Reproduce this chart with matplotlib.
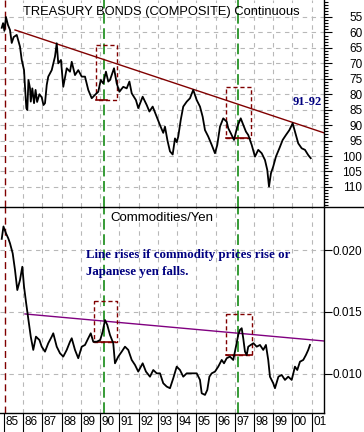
import matplotlib
matplotlib.use("Agg")
import matplotlib.pyplot as plt
import matplotlib.transforms as mtransforms
from matplotlib.lines import Line2D
import numpy as np

# ----- Treasury bonds (composite), inverted price scale -----
bond_years = [1984.88, 1984.95, 1985.02, 1985.10, 1985.20, 1985.31, 1985.40, 1985.50, 1985.66,
              1985.83, 1985.92, 1986.04, 1986.09, 1986.16, 1986.21, 1986.27, 1986.35, 1986.39,
              1986.47, 1986.56, 1986.64, 1986.72, 1986.84, 1986.96, 1987.05, 1987.13, 1987.22,
              1987.30, 1987.48, 1987.65, 1987.74,
              1987.82, 1987.96, 1988.08, 1988.26, 1988.43, 1988.52, 1988.69, 1988.86, 1989.04,
              1989.21, 1989.38, 1989.56, 1989.73, 1989.90, 1990.03, 1990.16, 1990.30, 1990.42,
              1990.51, 1990.72, 1990.86, 1991.00, 1991.20, 1991.38, 1991.52, 1991.64, 1991.86,
              1991.98, 1992.21, 1992.42, 1992.56, 1992.73, 1992.94, 1993.11, 1993.28, 1993.37,
              1993.50, 1993.63, 1993.77, 1993.89, 1993.98, 1994.06, 1994.19, 1994.32, 1994.50,
              1994.67, 1994.84, 1995.02, 1995.19, 1995.33, 1995.45, 1995.62, 1995.80, 1995.97,
              1996.09, 1996.23, 1996.40, 1996.58, 1996.66, 1996.79, 1996.96, 1997.13, 1997.31,
              1997.44, 1997.58, 1997.70, 1997.88, 1998.05, 1998.22, 1998.40, 1998.57, 1998.69,
              1998.78, 1998.88, 1999.00, 1999.14, 1999.32, 1999.49, 1999.66, 1999.84, 2000.01,
              2000.13, 2000.30, 2000.48, 2000.65, 2000.82, 2000.95]
bond_values = [58.5, 57.0, 59.5, 55.0, 57.5, 59.2, 63.4, 61.5, 60.8,
               64.6, 68.9, 72.2, 77.6, 84.5, 85.1, 75.4, 78.0, 82.4,
               78.1, 82.9, 78.6, 82.5, 80.0, 81.0, 83.5, 82.9, 77.0,
               74.3, 72.2, 67.8, 63.5,
               70.0, 68.9, 77.6, 71.6, 72.7, 69.5, 73.8, 72.2, 74.3,
               74.3, 78.6, 81.3, 80.2, 79.2, 75.4, 76.5, 72.7, 75.9,
               75.4, 71.6, 76.5, 79.2, 77.6, 78.1, 75.9, 79.7, 81.9,
               84.5, 80.8, 83.5, 85.6, 84.0, 87.3, 90.0, 92.5, 90.5,
               95.0, 98.5, 99.5, 94.3, 95.5, 93.7, 88.3, 84.0, 82.4,
               81.3, 78.6, 81.9, 84.0, 87.3, 91.6, 93.7, 96.4, 99.1,
               96.4, 90.5, 87.8, 88.9, 91.0, 92.6, 94.8, 90.5, 87.8,
               89.9, 92.1, 93.2, 96.4, 100.2, 98.0, 99.1, 101.3, 104.5,
               109.9, 105.6, 103.4, 100.2, 97.5, 94.8, 93.2, 91.6, 89.4,
               92.1, 95.9, 97.5, 98.0, 99.7, 100.7]

# ----- Commodities / Yen -----
cy_years = [1984.88, 1984.97, 1985.10, 1985.22, 1985.31, 1985.45, 1985.57, 1985.69, 1985.83,
            1985.95, 1986.04, 1986.14, 1986.27, 1986.39, 1986.52, 1986.66, 1986.84, 1986.96,
            1987.13, 1987.30, 1987.48, 1987.56, 1987.74, 1987.91, 1988.08, 1988.26, 1988.43,
            1988.52, 1988.69, 1988.86, 1989.04, 1989.21, 1989.38, 1989.51, 1989.64, 1989.82,
            1990.00, 1990.13, 1990.25, 1990.37, 1990.51, 1990.68, 1990.77, 1990.94, 1991.12,
            1991.29, 1991.46, 1991.64, 1991.81, 1991.98, 1992.21, 1992.38, 1992.59, 1992.76,
            1992.94, 1993.11, 1993.28, 1993.46, 1993.63, 1993.80, 1993.98, 1994.15, 1994.32,
            1994.50, 1994.76, 1995.02, 1995.19, 1995.28, 1995.45, 1995.57, 1995.68, 1995.80,
            1995.97, 1996.14, 1996.32, 1996.44, 1996.58, 1996.75, 1996.92, 1997.06, 1997.18,
            1997.27, 1997.36, 1997.44, 1997.53, 1997.62, 1997.70, 1997.83, 1997.97, 1998.14,
            1998.31, 1998.48, 1998.62, 1998.74, 1998.83, 1999.00, 1999.09, 1999.27, 1999.44,
            1999.61, 1999.78, 1999.96, 2000.13, 2000.25, 2000.39, 2000.56, 2000.70, 2000.82,
            2000.91]
cy_values = [0.0209, 0.0219, 0.02135, 0.02094, 0.02054, 0.01973, 0.01839, 0.01677, 0.01758,
             0.01865, 0.01704, 0.01583, 0.01435, 0.01301, 0.01194, 0.01301, 0.01274, 0.0122,
             0.0118, 0.01248, 0.01301, 0.01328, 0.0122, 0.01167, 0.0114, 0.01194, 0.0126,
             0.01288, 0.01194, 0.01127, 0.0122, 0.01234, 0.01288, 0.01328, 0.0126, 0.0126,
             0.01274, 0.01341, 0.01435, 0.01395, 0.01315, 0.01248, 0.01086, 0.0114, 0.0118,
             0.0122, 0.01194, 0.01113, 0.01073, 0.01019, 0.01086, 0.01019, 0.00978, 0.01032,
             0.01005, 0.01005, 0.00925, 0.00898, 0.00885, 0.00965, 0.01059, 0.01032, 0.00978,
             0.01005, 0.01005, 0.01005, 0.00952, 0.00844, 0.00831, 0.00871, 0.00978, 0.01005,
             0.01019, 0.01059, 0.01113, 0.01086, 0.01127, 0.0114, 0.01113, 0.0122, 0.01315,
             0.01355, 0.01369, 0.01288, 0.0118, 0.01153, 0.0122, 0.01234, 0.01248, 0.0122,
             0.01234, 0.01194, 0.01234, 0.01113, 0.00978, 0.00925, 0.00885, 0.00978, 0.00992,
             0.00952, 0.00978, 0.00952, 0.01059, 0.01032, 0.01099, 0.01113, 0.01153, 0.01194,
             0.01234]

# trend lines and annotations
bond_trend_years = [1985.57, 2001.64]
bond_trend_values = [59.2, 92.5]
cy_trend_years = [1986.09, 2001.64]
cy_trend_values = [0.01484, 0.01266]
green_years = [1990.22, 1997.19]
red_year = 1985.05
# boxes: (x0, x1, y0, y1, solid segment end x)
bond_boxes = [(1989.78, 1990.88, 64.06, 81.86, 1990.36),
              (1996.54, 1997.84, 77.65, 94.15, 1997.64)]
cy_boxes = [(1989.68, 1990.88, 0.01589, 0.01258, 1990.77),
            (1996.54, 1997.90, 0.01484, 0.01153, 1997.90)]

bond_ticks = [55, 60, 65, 70, 75, 80, 85, 90, 95, 100, 105, 110]
cy_ticks = [0.010, 0.015, 0.020]
cy_tick_labels = ["0.010", "0.015", "0.020"]
year_ticks = list(range(1985, 2002))
year_labels = ["85", "86", "87", "88", "89", "90", "91", "92", "93", "94", "95", "96",
               "97", "98", "99", "00", "01"]

plt.rcParams['font.family'] = ['Liberation Sans', 'DejaVu Sans']
fig = plt.figure(figsize=(3.64, 4.32), dpi=100)
W, H = 364, 432
ax1 = fig.add_axes([0, (H - 207) / H, 324 / W, 207 / H])
ax2 = fig.add_axes([0, (H - 413) / H, 324 / W, 206 / H])

dark_red = '#800000'
grid_kw = dict(color='#b8b8b8', lw=0.8, ls=(0, (4, 4)), zorder=0)

for ax in (ax1, ax2):
    ax.set_xlim(1984.79, 2001.64)
    for s in ('top', 'left', 'bottom'):
        ax.spines[s].set_visible(False)
    ax.spines['right'].set_linewidth(1.0)
    ax.yaxis.tick_right()
    for yr in year_ticks[1:]:
        ax.axvline(yr, **grid_kw)
    ax.axvline(red_year, color=dark_red, lw=1.0, ls=(0, (5, 3)), zorder=1)
    for g in green_years:
        ax.axvline(g, color='#008000', lw=1.1, ls=(0, (7, 3)), zorder=1)

# ----- top panel -----
ax1.set_ylim(116.5, 49.5)
ax1.set_yticks(bond_ticks)
ax1.set_yticks(np.arange(50, 117), minor=True)
ax1.set_xticks([])
for v in bond_ticks:
    ax1.axhline(v, **grid_kw)
ax1.tick_params(axis='y', which='major', length=6, width=0.8, pad=21.6, labelsize=8.5)
ax1.tick_params(axis='y', which='minor', length=3, width=0.8)
for lab in ax1.get_yticklabels():
    lab.set_ha('right')
ax1.plot(bond_years, bond_values, color='black', lw=1.3, zorder=3)
ax1.plot(bond_trend_years, bond_trend_values, color=dark_red, lw=1.0, zorder=2)
for x0, x1, y0, y1, xs in bond_boxes:
    ax1.plot([x0, x1, x1, x0, x0], [y0, y0, y1, y1, y0], color=dark_red, lw=1.0,
             ls=(0, (3, 2)), zorder=2)
    ax1.plot([x0, xs], [y1, y1], color=dark_red, lw=1.2, zorder=2)
ax1.text(0.497, 0.942, "TREASURY BONDS (COMPOSITE) Continuous", transform=ax1.transAxes,
         ha='center', va='center', fontsize=9.3)
ax1.text(0.9475, 0.507, "91-92", transform=ax1.transAxes, ha='center', va='center',
         fontsize=9, fontweight='bold', color='#000080', family='Liberation Serif')

# ----- bottom panel -----
ax2.set_ylim(0.00685, 0.02347)
ax2.set_yticks(cy_ticks)
ax2.set_yticklabels(cy_tick_labels)
for v in cy_ticks:
    ax2.axhline(v, **grid_kw)
ax2.tick_params(axis='y', which='major', length=6, width=0.8, pad=21.6, labelsize=8.5)
for lab in ax2.get_yticklabels():
    lab.set_ha('right')
ax2.spines['bottom'].set_visible(True)
ax2.spines['bottom'].set_linewidth(1.0)
ax2.set_xticks(year_ticks)
ax2.set_xticklabels([])
ax2.tick_params(axis='x', length=17, width=0.8)
lab_trans = mtransforms.offset_copy(
    mtransforms.blended_transform_factory(ax2.transData, ax2.transAxes),
    fig=fig, x=1.5, y=-3, units='dots')
for yr, lab in zip(year_ticks, year_labels):
    ax2.text(yr, 0, lab, transform=lab_trans, ha='left', va='top', fontsize=8.5)

ax2.plot(cy_years, cy_values, color='black', lw=1.3, zorder=3)
ax2.plot(cy_trend_years, cy_trend_values, color='#800080', lw=1.0, zorder=2)
for x0, x1, y0, y1, xs in cy_boxes:
    ax2.plot([x0, x1, x1, x0, x0], [y0, y0, y1, y1, y0], color=dark_red, lw=1.0,
             ls=(0, (3, 2)), zorder=2)
    ax2.plot([x0, xs], [y1, y1], color=dark_red, lw=1.2, zorder=2)
ax2.text(0.5, 0.947, "Commodities/Yen", transform=ax2.transAxes, ha='center', va='center',
         fontsize=9.5)
ax2.text(0.265, 0.767, "Line rises if commodity prices rise or", transform=ax2.transAxes,
         ha='left', va='center', fontsize=9.3, fontweight='bold', color='#000080',
         family='Liberation Serif')
ax2.text(0.265, 0.684, "Japanese yen falls.", transform=ax2.transAxes,
         ha='left', va='center', fontsize=9.3, fontweight='bold', color='#000080',
         family='Liberation Serif')

# divider across full width
fig.add_artist(Line2D([0, 1], [(H - 207) / H] * 2, transform=fig.transFigure,
                      color='black', lw=1.0))

fig.savefig('out.png', dpi=100)
